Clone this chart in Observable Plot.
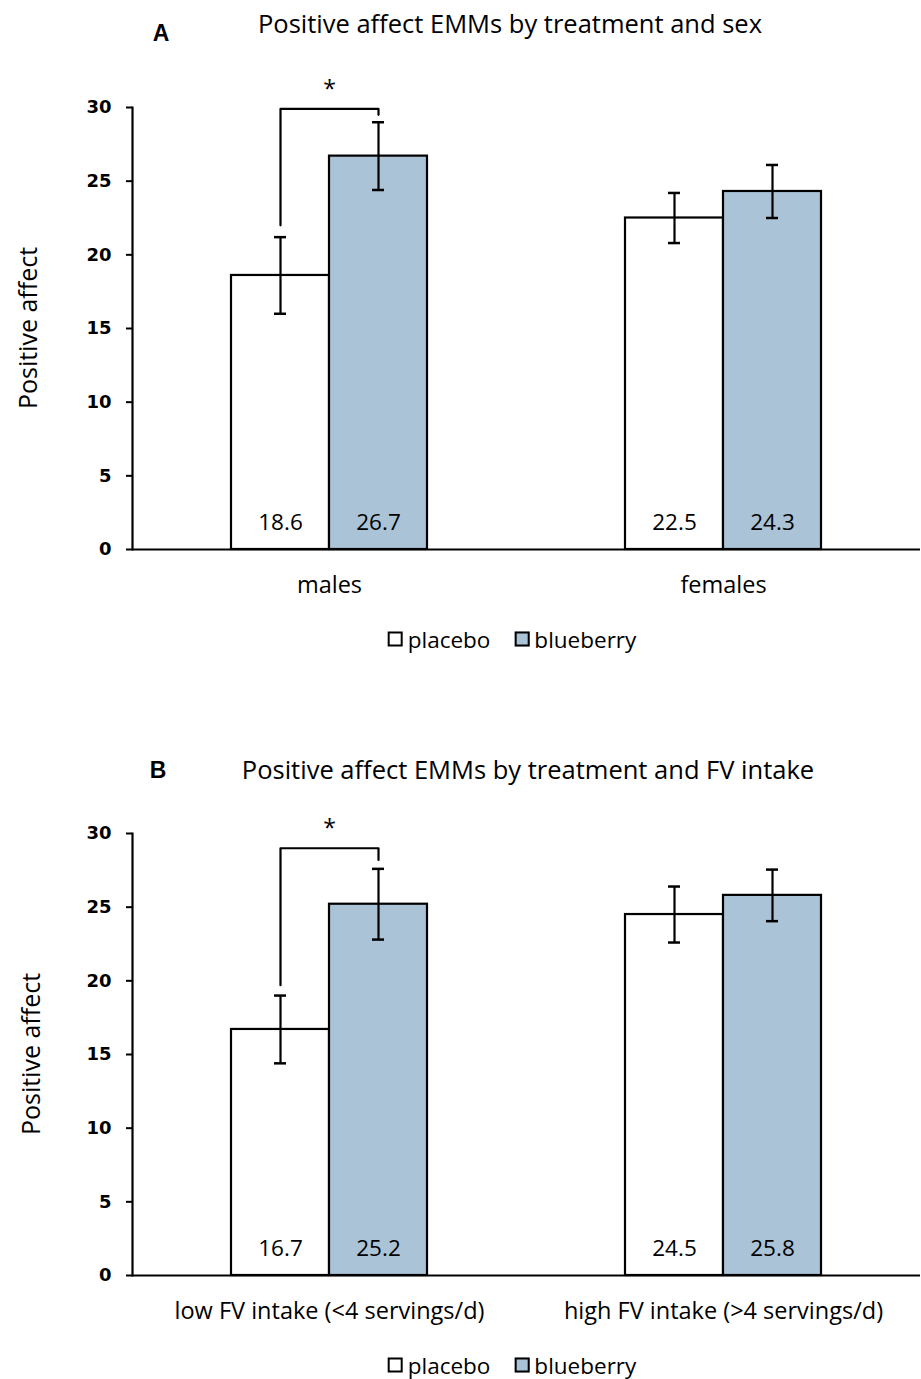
<!DOCTYPE html>
<html><head><meta charset="utf-8">
<script src="https://cdn.jsdelivr.net/npm/d3@7"></script>
<script src="https://cdn.jsdelivr.net/npm/@observablehq/plot@0.6"></script>
<style>
body{margin:0;background:#fff;font-family:"Open Sans",sans-serif;color:#000;}
#page{position:relative;width:921px;height:1379px;overflow:hidden;background:#fff}
.abs{position:absolute}
.letter{font-family:"Liberation Sans",Arial,sans-serif;font-weight:bold;font-size:23px;transform:translate(-50%,-50%);white-space:nowrap}
.title{font-size:25.5px;white-space:nowrap;transform:translate(-50%,-50%)}
.ylab{font-size:25px;white-space:nowrap;transform:translate(-50%,-50%) rotate(-90deg)}
.legend{display:flex;align-items:center;font-size:22.5px;transform:translate(-50%,-50%);white-space:nowrap}
.item{display:flex;align-items:center;margin:0 12px}
.sw{display:inline-block;width:11px;height:11px;border:2.5px solid #000;margin-right:5px}
.chart{position:absolute;left:0}
</style></head>
<body><div id="page"></div>
<script>
// ---- data ----
const treatments = ["placebo", "blueberry"];
const treatmentColors = ["#ffffff", "#abc3d6"];
const yTicks = [0, 5, 10, 15, 20, 25, 30];

const groupsA = ["males", "males", "females", "females"];
const treatmentsA = ["placebo", "blueberry", "placebo", "blueberry"];
const valuesA = [18.6, 26.7, 22.5, 24.3];
const errorsA = [2.6, 2.3, 1.7, 1.8];
const bracketGroupA = "males";
const bracketTreatA = ["placebo", "placebo", "blueberry", "blueberry"];
const bracketYA = [22.0, 29.9, 29.9, 29.5];
const starYA = 31.2;

const groupsB = ["low FV intake (<4 servings/d)", "low FV intake (<4 servings/d)", "high FV intake (>4 servings/d)", "high FV intake (>4 servings/d)"];
const treatmentsB = ["placebo", "blueberry", "placebo", "blueberry"];
const valuesB = [16.7, 25.2, 24.5, 25.8];
const errorsB = [2.3, 2.4, 1.9, 1.75];
const bracketGroupB = "low FV intake (<4 servings/d)";
const bracketTreatB = ["placebo", "placebo", "blueberry", "blueberry"];
const bracketYB = [19.7, 29.0, 29.0, 28.2];
const starYB = 30.3;

const page = document.getElementById("page");
function addDiv(cls, text, left, top) {
  const d = document.createElement("div");
  d.className = "abs " + cls;
  d.textContent = text;
  d.style.left = left + "px";
  d.style.top = top + "px";
  page.appendChild(d);
  return d;
}

function panel(groups, trts, vals, errs, bGroup, bTreat, bY, starY) {
  const data = groups.map((g, i) => ({group: g, treatment: trts[i], value: vals[i], lo: vals[i] - errs[i], hi: vals[i] + errs[i]}));
  const bracket = bTreat.map((t, i) => ({group: bGroup, treatment: t, y: bY[i]}));
  const star = [{group: bGroup, y: starY, label: "*"}];
  const ff = '"Open Sans", sans-serif';
  return Plot.plot({
    width: 921, height: 560,
    marginLeft: 132, marginRight: 1, marginTop: 47, marginBottom: 71,
    style: {fontFamily: ff, fontSize: "22px", color: "#000", background: "transparent", overflow: "visible"},
    fx: {domain: [...new Set(groups)], padding: 0, label: null},
    x: {domain: treatments, paddingInner: 0, paddingOuter: 1, axis: null},
    y: {domain: [0, 30], label: null},
    color: {domain: treatments, range: treatmentColors},
    marks: [
      Plot.barY(data, {fx: "group", x: "treatment", y: "value", fill: "treatment", stroke: "#000", strokeWidth: 2.2}),
      Plot.ruleY([0], {stroke: "#000", strokeWidth: 2}),
      Plot.ruleX(data, {fx: "group", x: "treatment", y1: "lo", y2: "hi", stroke: "#000", strokeWidth: 2.2}),
      Plot.tickY(data, {fx: "group", x: "treatment", y: "lo", stroke: "#000", strokeWidth: 2.5, insetLeft: 43, insetRight: 43}),
      Plot.tickY(data, {fx: "group", x: "treatment", y: "hi", stroke: "#000", strokeWidth: 2.5, insetLeft: 43, insetRight: 43}),
      Plot.text(data, {fx: "group", x: "treatment", y: 0, text: d => d.value.toFixed(1), dy: -27, fontSize: 22.5, fill: "#000"}),
      Plot.line(bracket, {fx: "group", x: "treatment", y: "y", stroke: "#000", strokeWidth: 2.2, curve: "linear"}),
      Plot.text(star, {fx: "group", y: "y", text: "label", fontSize: 23, fill: "#000"}),
      Plot.frame({anchor: "left", facetAnchor: "left", stroke: "#000", strokeWidth: 2.2}),
      Plot.axisY({ticks: yTicks, tickSize: 6, tickPadding: 15, strokeWidth: 2, fontFamily: '"DejaVu Sans", sans-serif', fontWeight: "bold", fontSize: 18, label: null, tickFormat: d => String(d)}),
      Plot.axisFx({anchor: "bottom", tickSize: 0, tickPadding: 27, label: null, fontSize: 23.5})
    ]
  });
}

function legend(cx, cy) {
  const d = document.createElement("div");
  d.className = "abs legend";
  d.style.left = cx + "px";
  d.style.top = cy + "px";
  treatments.forEach((t, i) => {
    const it = document.createElement("span");
    it.className = "item";
    const sw = document.createElement("span");
    sw.className = "sw";
    sw.style.background = treatmentColors[i];
    it.appendChild(sw);
    it.appendChild(document.createTextNode(t));
    d.appendChild(it);
  });
  page.appendChild(d);
}

// Panel A
addDiv("letter", "A", 161, 33);
addDiv("title", "Positive affect EMMs by treatment and sex", 510, 23);
const svgA = panel(groupsA, treatmentsA, valuesA, errorsA, bracketGroupA, bracketTreatA, bracketYA, starYA);
const wA = document.createElement("div"); wA.className = "chart"; wA.style.top = "60px"; wA.appendChild(svgA); page.appendChild(wA);
addDiv("ylab", "Positive affect", 27, 328);
legend(512, 639);

// Panel B
addDiv("letter", "B", 158, 770);
addDiv("title", "Positive affect EMMs by treatment and FV intake", 528, 769);
const svgB = panel(groupsB, treatmentsB, valuesB, errorsB, bracketGroupB, bracketTreatB, bracketYB, starYB);
const wB = document.createElement("div"); wB.className = "chart"; wB.style.top = "786px"; wB.appendChild(svgB); page.appendChild(wB);
addDiv("ylab", "Positive affect", 30, 1054);
legend(512, 1365);
</script>
</body></html>
